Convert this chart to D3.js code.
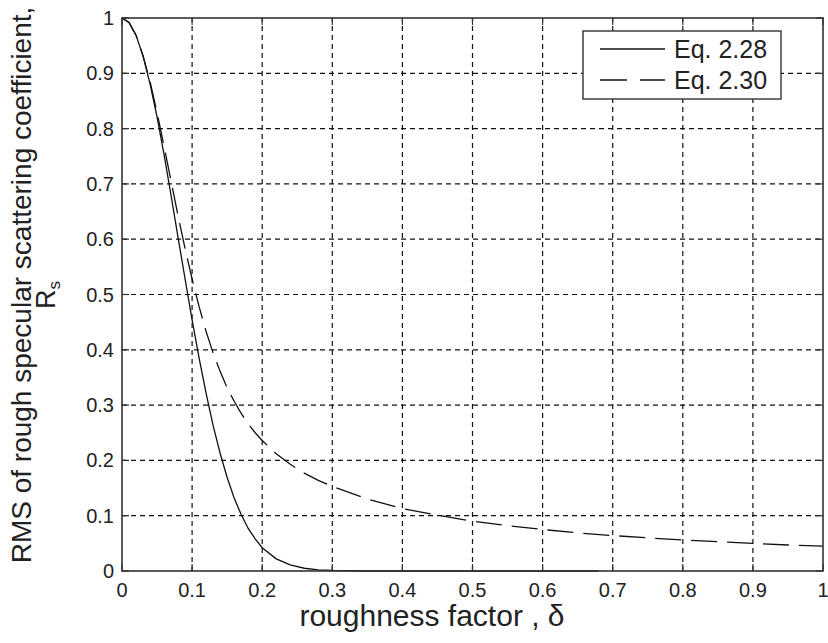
<!doctype html>
<html lang="en">
  <head>
    <meta charset="utf-8">
    <title>rough specular scattering</title>
    <script src="https://d3js.org/d3.v7.min.js"></script>
    <style>
      body { margin: 0; background: #fff; }
      svg { display: block; font-family: "Liberation Sans", Arial, sans-serif; }
      .tick-label { font-size: 20px; fill: #222; }
    </style>
  </head>
  <body>
    <svg></svg>
    <script>
      // Eq. 2.28 (solid)
      var deltaSolid = [0, 0.01, 0.02, 0.03, 0.04, 0.05, 0.06, 0.07, 0.08, 0.09, 0.10,
        0.11, 0.12, 0.13, 0.14, 0.15, 0.16, 0.17, 0.18, 0.19, 0.20,
        0.22, 0.24, 0.26, 0.28, 0.30, 0.35, 0.40, 0.50, 0.60, 0.68];
      var rsSolid = [1, 0.992, 0.969, 0.931, 0.881, 0.821, 0.753, 0.679, 0.603, 0.528, 0.454,
        0.385, 0.321, 0.263, 0.213, 0.169, 0.132, 0.102, 0.077, 0.058, 0.042,
        0.022, 0.011, 0.005, 0.002, 0.001, 0, 0, 0, 0, 0];

      // Eq. 2.30 (dashed)
      var deltaDashed = [0, 0.01, 0.02, 0.03, 0.04, 0.05, 0.06, 0.07, 0.08, 0.09, 0.10,
        0.11, 0.12, 0.13, 0.14, 0.15, 0.16, 0.17, 0.18, 0.19, 0.20,
        0.22, 0.24, 0.26, 0.28, 0.30, 0.35, 0.40, 0.45, 0.50, 0.55, 0.60,
        0.65, 0.70, 0.75, 0.80, 0.85, 0.90, 0.95, 1.00];
      var rsDashed = [1, 0.992, 0.969, 0.932, 0.885, 0.829, 0.768, 0.705, 0.642, 0.583, 0.528,
        0.478, 0.433, 0.394, 0.361, 0.331, 0.307, 0.285, 0.266, 0.250, 0.236,
        0.212, 0.193, 0.177, 0.164, 0.153, 0.130, 0.113, 0.101, 0.090, 0.082, 0.075,
        0.069, 0.064, 0.060, 0.056, 0.053, 0.050, 0.047, 0.045];

      var xTicks = [0, 0.1, 0.2, 0.3, 0.4, 0.5, 0.6, 0.7, 0.8, 0.9, 1];
      var yTicks = [0, 0.1, 0.2, 0.3, 0.4, 0.5, 0.6, 0.7, 0.8, 0.9, 1];
      var legendLabels = ["Eq. 2.28", "Eq. 2.30"];

      var W = 828, H = 643;
      var pLeft = 122, pTop = 18, pRight = 823, pBottom = 571;

      var svg = d3.select("svg").attr("width", W).attr("height", H);

      var x = d3.scaleLinear().domain([0, 1]).range([pLeft, pRight]);
      var y = d3.scaleLinear().domain([0, 1]).range([pBottom, pTop]);

      // grid
      var grid = svg.append("g")
        .attr("stroke", "#111")
        .attr("stroke-width", 1.2)
        .attr("stroke-dasharray", "5,4");
      grid.selectAll(".vg").data(xTicks.slice(1, -1)).enter()
        .append("line")
        .attr("x1", function(d){ return x(d) }).attr("x2", function(d){ return x(d) })
        .attr("y1", pBottom).attr("y2", pTop);
      grid.selectAll(".hg").data(yTicks.slice(1, -1)).enter()
        .append("line")
        .attr("y1", function(d){ return y(d) }).attr("y2", function(d){ return y(d) })
        .attr("x1", pLeft).attr("x2", pRight);

      // ticks inside, all four sides
      var tl = 7;
      var ticks = svg.append("g").attr("stroke", "#333").attr("stroke-width", 1.2);
      xTicks.forEach(function(d){
        ticks.append("line").attr("x1", x(d)).attr("x2", x(d)).attr("y1", pBottom).attr("y2", pBottom - tl);
        ticks.append("line").attr("x1", x(d)).attr("x2", x(d)).attr("y1", pTop).attr("y2", pTop + tl);
      });
      yTicks.forEach(function(d){
        ticks.append("line").attr("y1", y(d)).attr("y2", y(d)).attr("x1", pLeft).attr("x2", pLeft + tl);
        ticks.append("line").attr("y1", y(d)).attr("y2", y(d)).attr("x1", pRight).attr("x2", pRight - tl);
      });

      // curves
      var line = d3.line()
        .x(function(d){ return x(d[0]) })
        .y(function(d){ return y(d[1]) });

      svg.append("path")
        .datum(d3.zip(deltaDashed, rsDashed))
        .attr("fill", "none").attr("stroke", "#111").attr("stroke-width", 1.3)
        .attr("stroke-dasharray", "26,10")
        .attr("d", line);

      svg.append("path")
        .datum(d3.zip(deltaSolid, rsSolid))
        .attr("fill", "none").attr("stroke", "#111").attr("stroke-width", 1.3)
        .attr("d", line);

      // frame
      svg.append("rect")
        .attr("x", pLeft).attr("y", pTop)
        .attr("width", pRight - pLeft).attr("height", pBottom - pTop)
        .attr("fill", "none").attr("stroke", "#333").attr("stroke-width", 1.6);

      // tick labels
      svg.selectAll(".xl").data(xTicks).enter()
        .append("text").attr("class", "tick-label")
        .attr("x", function(d){ return x(d) }).attr("y", 597)
        .attr("text-anchor", "middle")
        .text(function(d){ return d3.format("~g")(d) });
      svg.selectAll(".yl").data(yTicks).enter()
        .append("text").attr("class", "tick-label")
        .attr("x", 114).attr("y", function(d){ return y(d) + 7 })
        .attr("text-anchor", "end")
        .text(function(d){ return d3.format("~g")(d) });

      // axis titles
      svg.append("text")
        .attr("x", 432).attr("y", 626)
        .attr("text-anchor", "middle")
        .attr("font-size", 30).attr("fill", "#222")
        .text("roughness factor , δ");

      var yt = svg.append("g").attr("transform", "translate(31,285) rotate(-90)");
      yt.append("text")
        .attr("text-anchor", "middle")
        .attr("font-size", 28).attr("fill", "#222")
        .text("RMS of rough specular scattering coefficient,");
      var rs = yt.append("text")
        .attr("y", 24)
        .attr("x", -10)
        .attr("text-anchor", "middle")
        .attr("font-size", 27).attr("fill", "#222");
      rs.append("tspan").text("R");
      rs.append("tspan").attr("font-size", 17).attr("dy", 5).text("s");

      // legend
      var lg = svg.append("g");
      lg.append("rect")
        .attr("x", 583).attr("y", 31).attr("width", 198).attr("height", 68)
        .attr("fill", "#fff").attr("stroke", "#333").attr("stroke-width", 1.4);
      var rowY = [49, 80];
      legendLabels.forEach(function(label, i){
        lg.append("line")
          .attr("x1", 600).attr("x2", 665).attr("y1", rowY[i]).attr("y2", rowY[i])
          .attr("stroke", "#111").attr("stroke-width", 1.3)
          .attr("stroke-dasharray", i == 1 ? "27,13" : null);
        lg.append("text")
          .attr("x", 674).attr("y", rowY[i] + 9)
          .attr("font-size", 25).attr("fill", "#222")
          .text(label);
      });
    </script>
  </body>
</html>
